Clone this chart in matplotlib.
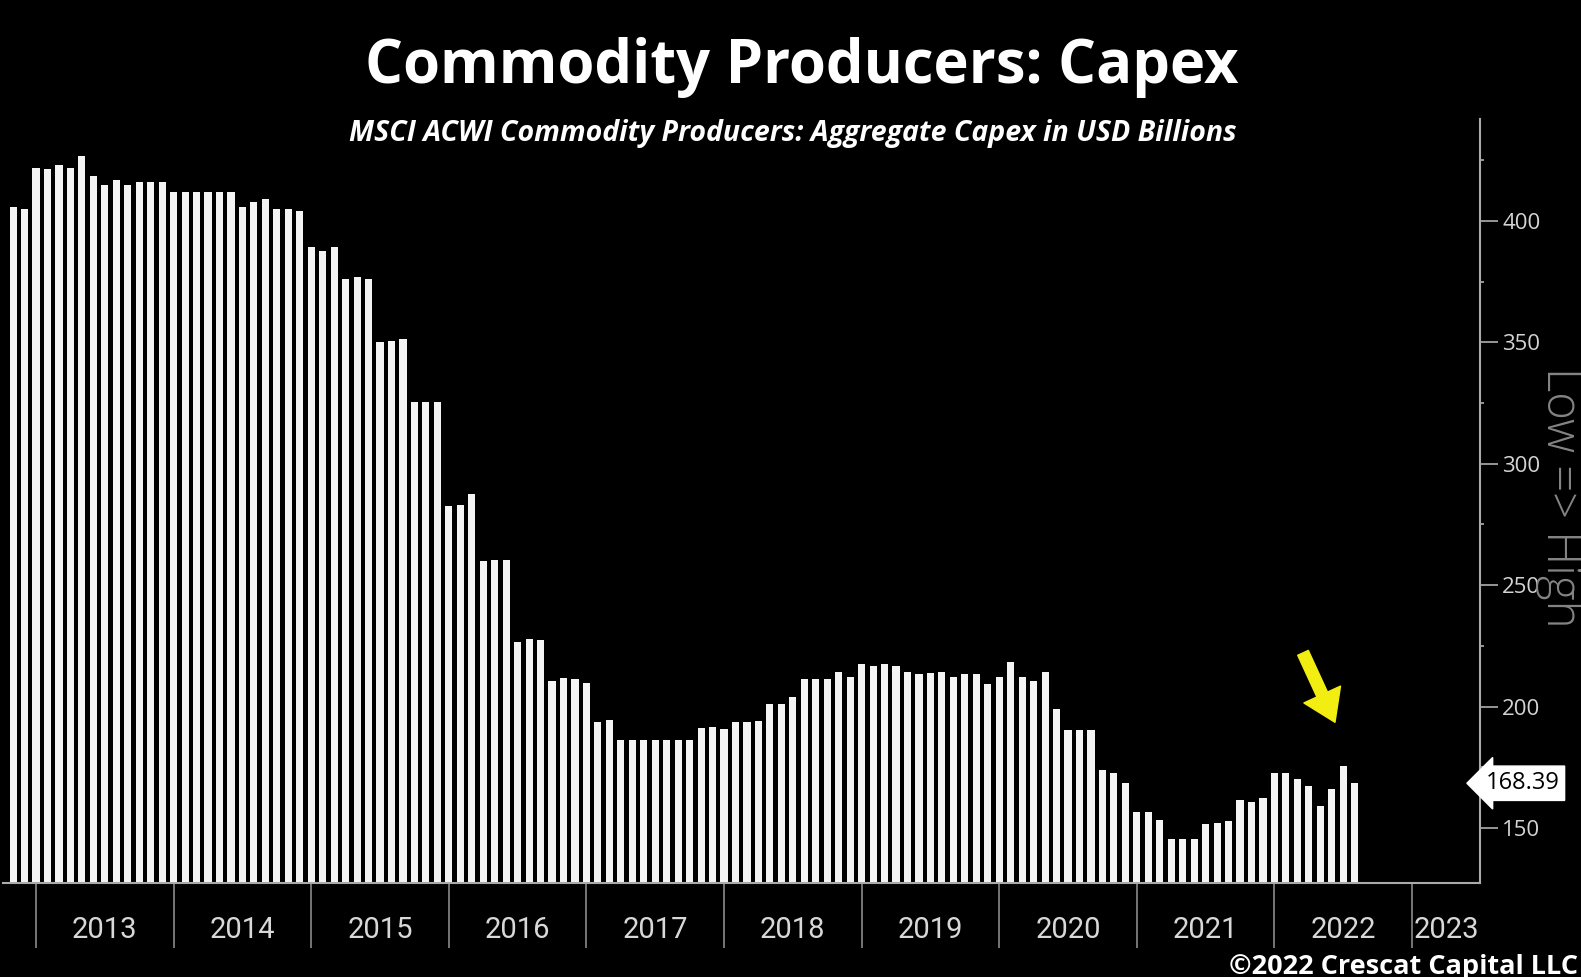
import matplotlib
matplotlib.use("Agg")
import pandas as pd
from matplotlib import pyplot as plt, transforms

plt.rcParams['font.family'] = ['Open Sans', 'DejaVu Sans']

# aggregate capex, USD bn, one value per month starting Oct 2012
capex = [
    405.8, 405.0, 422.0, 421.5, 423.0, 422.0, 426.8, 418.5, 414.8, 417.0,
    414.8, 416.0, 416.0, 416.0, 412.0, 412.0, 412.0, 412.0, 412.0, 412.0,
    405.8, 407.8, 409.0, 405.0, 405.0, 404.0, 389.3, 387.5, 389.3, 376.3,
    377.0, 376.0, 350.0, 350.6, 351.5, 325.3, 325.3, 325.3, 282.6, 283.0,
    287.5, 260.0, 260.5, 260.5, 226.6, 228.0, 227.5, 210.5, 211.9, 211.4,
    209.8, 193.5, 194.3, 186.2, 186.0, 186.0, 186.2, 186.2, 186.2, 186.2,
    191.0, 191.4, 190.6, 193.5, 193.5, 194.2, 200.9, 200.9, 203.9, 211.2,
    211.2, 211.4, 214.4, 212.3, 217.4, 216.7, 217.7, 216.8, 214.2, 213.4,
    213.8, 214.2, 212.3, 213.4, 213.4, 209.4, 212.3, 218.2, 212.3, 210.7,
    214.4, 198.9, 190.2, 190.2, 190.2, 173.9, 172.5, 168.4, 156.7, 156.7,
    153.3, 145.3, 145.3, 145.3, 151.5, 151.9, 153.0, 161.5, 160.5, 162.2,
    172.5, 172.8, 170.0, 167.3, 158.9, 166.0, 175.5, 168.39,
]
first_month = "2012-10-31"
years = list(range(2013, 2024))
y_major = [150, 200, 250, 300, 350, 400]
y_minor = [175, 225, 275, 325, 375, 425]

title = "Commodity Producers: Capex"
subtitle = "MSCI ACWI Commodity Producers: Aggregate Capex in USD Billions"
credit = "\u00a92022 Crescat Capital LLC"
side_note = "Low => High"

months = pd.date_range(first_month, periods=len(capex), freq="ME")
x = list(months.year + months.month / 12.0)

W, H = 1581, 977
fig = plt.figure(figsize=(W / 100, H / 100), dpi=100, facecolor="black")
ax = fig.add_axes([3 / W, 1 - 883 / H, (1480 - 3) / W, (883 - 119) / H])
ax.set_facecolor("black")

ax.bar(x, capex, width=0.62 / 12, color="#f4f4f4", linewidth=0)
x_right = 2023.494
ax.set_xlim(2012.76, x_right)
ax.set_ylim(127.3, 442)

# right-hand value axis
ax.yaxis.tick_right()
ax.set_yticks(y_major)
ax.set_yticks(y_minor, minor=True)
ax.tick_params(axis="y", which="major", length=13, width=1.2, color="#b0b0b0",
               labelcolor="#d4d4d4", labelsize=16, pad=3)
ax.tick_params(axis="y", which="minor", length=3, width=1.2, color="#b0b0b0")
ax.set_xticks([])
for side in ("left", "top"):
    ax.spines[side].set_visible(False)
for side in ("right", "bottom"):
    ax.spines[side].set_color("#aaaaaa")
    ax.spines[side].set_linewidth(1.5)

# year separators and labels below the bars
trans = transforms.blended_transform_factory(ax.transData, ax.transAxes)
ax.vlines(years, -0.085, 0, transform=trans, colors="#8a8a8a", lw=1.2, clip_on=False)
for yr in years:
    mid = (yr + min(yr + 1, x_right)) / 2
    ax.text(mid, -0.062, str(yr), transform=trans, ha="center", va="center",
            color="#d8d8d8", fontsize=21, family=["Roboto", "DejaVu Sans"])

# tag with the latest value
last = capex[-1]
ax.annotate(f"{last:.2f}", xy=(1, last), xycoords=("axes fraction", "data"),
            xytext=(4, 0), textcoords="offset points", ha="left", va="center",
            fontsize=17, color="black", annotation_clip=False,
            bbox=dict(boxstyle="larrow,pad=0.22", fc="white", ec="white"))

# yellow arrow over the recent high
peak = len(capex) - 2
ax.annotate("", xy=(x[peak] - 0.06, capex[peak] + 18), xytext=(-23, 50),
            textcoords="offset points",
            arrowprops=dict(arrowstyle="simple,head_length=1.1,head_width=1.45,tail_width=0.42",
                            mutation_scale=20, fc="#f2ee12", ec="#f2ee12",
                            shrinkA=0, shrinkB=0))

fig.text(802 / W, 1 - 67 / H, title, ha="center", va="center", color="white",
         fontsize=43, fontweight="bold")
fig.text(793 / W, 1 - 133 / H, subtitle, ha="center", va="center", color="white",
         fontsize=20.5, fontweight="bold", fontstyle="italic")
fig.text(1578 / W, 1 - 967 / H, credit, ha="right", va="center", color="white",
         fontsize=19.5, fontweight="bold")
fig.text(1559 / W, 1 - 497 / H, side_note, rotation=270, ha="center", va="center",
         color="#858585", fontsize=34, fontweight="light")

fig.savefig("out.png", dpi=100, facecolor="black")
